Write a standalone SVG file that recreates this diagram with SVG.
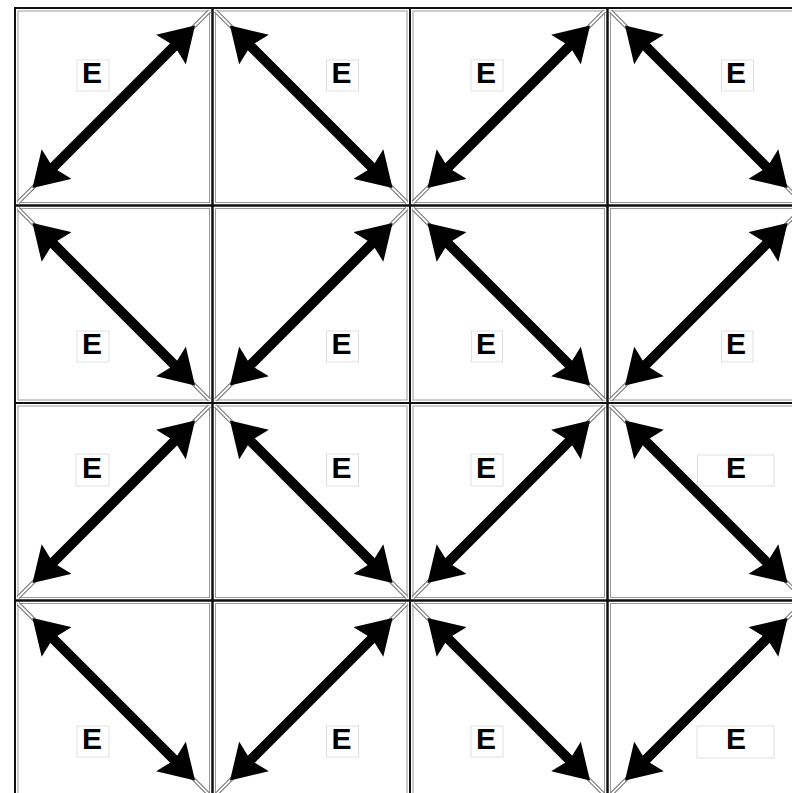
<svg xmlns="http://www.w3.org/2000/svg" width="792" height="793" viewBox="0 0 792 793">
<style>
.frame{fill:none;stroke:#111;stroke-width:2}
.frame-in{fill:none;stroke:#999;stroke-width:1}
.lbl{fill:#fff;stroke:#e0e0e0;stroke-width:1}
.e{font-family:"Liberation Sans",Arial,sans-serif;font-weight:bold;font-size:30px;fill:#000;text-anchor:middle}
.diag-o{stroke:#777;stroke-width:4;fill:none}
.diag-i{stroke:#fff;stroke-width:1.8;fill:none}
.arrow{stroke:#000;stroke-width:10;fill:none;marker-start:url(#head);marker-end:url(#head)}
</style>
<defs>
<marker id="head" markerUnits="userSpaceOnUse" viewBox="0 0 34 42" markerWidth="34" markerHeight="42" refX="17" refY="21" orient="auto-start-reverse">
<path d="M0,0 L34,21 L0,42 L5,21 Z" fill="#000"/>
</marker>
<g id="slash">
<line class="diag-o" x1="3" y1="194.5" x2="194.5" y2="3"/>
<line class="diag-i" x1="3" y1="194.5" x2="194.5" y2="3"/>
<line class="arrow" x1="29.5" y1="168" x2="168" y2="29.5"/>
</g>
<g id="back">
<line class="diag-o" x1="3" y1="3" x2="194.5" y2="194.5"/>
<line class="diag-i" x1="3" y1="3" x2="194.5" y2="194.5"/>
<line class="arrow" x1="29.5" y1="29.5" x2="168" y2="168"/>
</g>
</defs>
<rect width="792" height="793" fill="#fff"/>

<g id="cell-r0c0" transform="translate(15,8)"><rect class="frame" width="197.5" height="197.5"/><rect class="frame-in" x="3" y="3" width="191.5" height="191.5"/><rect class="lbl" x="62" y="52" width="32" height="31"/><text class="e" x="77" y="75">E</text></g>
<g id="cell-r0c1" transform="translate(212.5,8)"><rect class="frame" width="197.5" height="197.5"/><rect class="frame-in" x="3" y="3" width="191.5" height="191.5"/><rect class="lbl" x="114" y="52" width="32" height="31"/><text class="e" x="129" y="75">E</text></g>
<g id="cell-r0c2" transform="translate(410,8)"><rect class="frame" width="197.5" height="197.5"/><rect class="frame-in" x="3" y="3" width="191.5" height="191.5"/><rect class="lbl" x="61" y="52" width="32" height="31"/><text class="e" x="76" y="75">E</text></g>
<g id="cell-r0c3" transform="translate(607.5,8)"><rect class="frame" width="197.5" height="197.5"/><rect class="frame-in" x="3" y="3" width="191.5" height="191.5"/><rect class="lbl" x="114" y="52" width="32" height="31"/><text class="e" x="128.5" y="75">E</text></g>

<g id="cell-r1c0" transform="translate(15,205.5)"><rect class="frame" width="197.5" height="197.5"/><rect class="frame-in" x="3" y="3" width="191.5" height="191.5"/><rect class="lbl" x="62" y="125.5" width="32" height="31"/><text class="e" x="77" y="148.5">E</text></g>
<g id="cell-r1c1" transform="translate(212.5,205.5)"><rect class="frame" width="197.5" height="197.5"/><rect class="frame-in" x="3" y="3" width="191.5" height="191.5"/><rect class="lbl" x="114" y="125.5" width="32" height="31"/><text class="e" x="129" y="148.5">E</text></g>
<g id="cell-r1c2" transform="translate(410,205.5)"><rect class="frame" width="197.5" height="197.5"/><rect class="frame-in" x="3" y="3" width="191.5" height="191.5"/><rect class="lbl" x="61.5" y="125.5" width="31" height="31"/><text class="e" x="76" y="148.5">E</text></g>
<g id="cell-r1c3" transform="translate(607.5,205.5)"><rect class="frame" width="197.5" height="197.5"/><rect class="frame-in" x="3" y="3" width="191.5" height="191.5"/><rect class="lbl" x="114" y="125.5" width="31.5" height="31"/><text class="e" x="128.5" y="148.5">E</text></g>

<g id="cell-r2c0" transform="translate(15,403)"><rect class="frame" width="197.5" height="197.5"/><rect class="frame-in" x="3" y="3" width="191.5" height="191.5"/><rect class="lbl" x="61" y="51" width="33" height="32"/><text class="e" x="77" y="74.5">E</text></g>
<g id="cell-r2c1" transform="translate(212.5,403)"><rect class="frame" width="197.5" height="197.5"/><rect class="frame-in" x="3" y="3" width="191.5" height="191.5"/><rect class="lbl" x="114" y="51" width="32" height="32"/><text class="e" x="129" y="74.5">E</text></g>
<g id="cell-r2c2" transform="translate(410,403)"><rect class="frame" width="197.5" height="197.5"/><rect class="frame-in" x="3" y="3" width="191.5" height="191.5"/><rect class="lbl" x="61" y="51" width="32" height="32"/><text class="e" x="76" y="74.5">E</text></g>
<g id="cell-r2c3" transform="translate(607.5,403)"><rect class="frame" width="197.5" height="197.5"/><rect class="frame-in" x="3" y="3" width="191.5" height="191.5"/><rect class="lbl" x="90" y="52" width="76.5" height="31"/><text class="e" x="128.5" y="74.5">E</text></g>

<g id="cell-r3c0" transform="translate(15,600.5)"><rect class="frame" width="197.5" height="197.5"/><rect class="frame-in" x="3" y="3" width="191.5" height="191.5"/><rect class="lbl" x="62" y="125.5" width="32" height="31"/><text class="e" x="77" y="148.5">E</text></g>
<g id="cell-r3c1" transform="translate(212.5,600.5)"><rect class="frame" width="197.5" height="197.5"/><rect class="frame-in" x="3" y="3" width="191.5" height="191.5"/><rect class="lbl" x="114" y="125.5" width="32" height="31"/><text class="e" x="129" y="148.5">E</text></g>
<g id="cell-r3c2" transform="translate(410,600.5)"><rect class="frame" width="197.5" height="197.5"/><rect class="frame-in" x="3" y="3" width="191.5" height="191.5"/><rect class="lbl" x="61" y="125.5" width="32" height="31"/><text class="e" x="76" y="148.5">E</text></g>
<g id="cell-r3c3" transform="translate(607.5,600.5)"><rect class="frame" width="197.5" height="197.5"/><rect class="frame-in" x="3" y="3" width="191.5" height="191.5"/><rect class="lbl" x="89.5" y="125.5" width="77" height="32"/><text class="e" x="128.5" y="148.5">E</text></g>

<g id="connectors">
<use href="#slash" transform="translate(15,8)"/>
<use href="#back" transform="translate(212.5,8)"/>
<use href="#slash" transform="translate(410,8)"/>
<use href="#back" transform="translate(607.5,8)"/>
<use href="#back" transform="translate(15,205.5)"/>
<use href="#slash" transform="translate(212.5,205.5)"/>
<use href="#back" transform="translate(410,205.5)"/>
<use href="#slash" transform="translate(607.5,205.5)"/>
<use href="#slash" transform="translate(15,403)"/>
<use href="#back" transform="translate(212.5,403)"/>
<use href="#slash" transform="translate(410,403)"/>
<use href="#back" transform="translate(607.5,403)"/>
<use href="#back" transform="translate(15,600.5)"/>
<use href="#slash" transform="translate(212.5,600.5)"/>
<use href="#back" transform="translate(410,600.5)"/>
<use href="#slash" transform="translate(607.5,600.5)"/>
</g>
</svg>
